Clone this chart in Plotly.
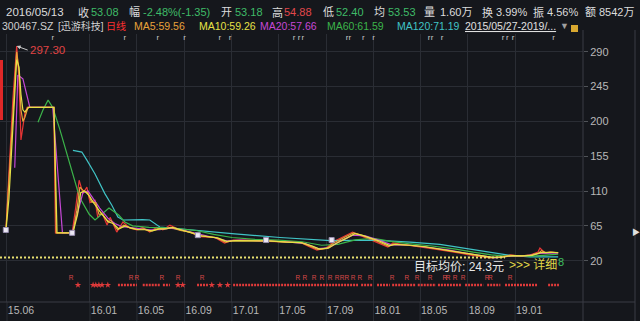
import plotly.graph_objects as go

# ---------------- data ----------------
price_dates = ["2015-05-29", "2015-06-06", "2015-06-16", "2015-06-26", "2015-07-02", "2015-07-07",
               "2015-07-12", "2015-07-17", "2015-07-23", "2015-09-30", "2015-10-04", "2015-11-16",
               "2015-11-26", "2015-12-04", "2015-12-14", "2015-12-24", "2016-01-01", "2016-01-14",
               "2016-01-21", "2016-02-01", "2016-02-14", "2016-02-22", "2016-03-10", "2016-03-26",
               "2016-04-13", "2016-05-01", "2016-05-16", "2016-06-03", "2016-06-21", "2016-07-07",
               "2016-07-25", "2016-08-19", "2016-09-14", "2016-10-10", "2016-11-18", "2016-12-13",
               "2017-01-04", "2017-02-16", "2017-03-31", "2017-05-18", "2017-06-25", "2017-07-21",
               "2017-08-08", "2017-09-02", "2017-09-18", "2017-10-19", "2017-11-08", "2017-11-26",
               "2018-01-10", "2018-02-07", "2018-02-20", "2018-03-29", "2018-05-08", "2018-06-21",
               "2018-08-12", "2018-09-20", "2018-10-29", "2018-11-22", "2018-12-19", "2019-01-14",
               "2019-02-08", "2019-03-01", "2019-03-06", "2019-03-19", "2019-04-01", "2019-04-22"]
price_vals = [57, 137, 227, 297.3, 253, 176,
              195, 210, 218, 218, 56, 56,
              92, 124, 107, 115, 95, 98,
              76, 82, 66, 76, 57, 70,
              62, 60, 63, 57, 63, 60,
              66, 60, 57, 51, 50, 42.9,
              46.7, 46.7, 45, 44, 44, 37.7,
              33.8, 36.4, 44.2, 52, 57, 53,
              44.2, 37.7, 42.9, 40.3, 37.7, 33.8,
              29.9, 26.1, 23.5, 24.8, 27.4, 26.1,
              27.4, 31.2, 36.4, 29.9, 31.2, 29.9]

ma5_dates = ["2015-05-29", "2015-06-06", "2015-06-16", "2015-06-26", "2015-07-02", "2015-07-07",
             "2015-07-12", "2015-07-17", "2015-07-25", "2015-09-30", "2015-10-06", "2015-11-18",
             "2015-11-28", "2015-12-06", "2015-12-16", "2015-12-26", "2016-01-05", "2016-01-16",
             "2016-01-24", "2016-02-03", "2016-02-16", "2016-02-24", "2016-03-12", "2016-03-28",
             "2016-04-15", "2016-05-03", "2016-05-18", "2016-06-05", "2016-06-23", "2016-07-09",
             "2016-07-27", "2016-08-21", "2016-09-16", "2016-10-12", "2016-11-20", "2016-12-15",
             "2017-01-06", "2017-02-18", "2017-04-02", "2017-05-20", "2017-06-27", "2017-07-23",
             "2017-08-10", "2017-09-04", "2017-09-20", "2017-10-21", "2017-11-10", "2017-11-28",
             "2018-01-12", "2018-02-09", "2018-02-22", "2018-03-31", "2018-05-10", "2018-06-23",
             "2018-08-14", "2018-09-22", "2018-10-31", "2018-11-24", "2018-12-21", "2019-01-16",
             "2019-02-10", "2019-03-03", "2019-03-10", "2019-03-21", "2019-04-03", "2019-04-22"]
ma5_vals = [57, 120, 210, 290, 265, 215,
            200, 205, 218, 218, 56, 56,
            85, 115, 110, 108, 96, 95,
            80, 80, 70, 72, 60, 66,
            62, 60, 61, 58, 61, 61,
            63, 59, 57, 52, 50, 44,
            46, 46, 45.5, 44, 43.5, 38.5,
            34.5, 36, 43, 51, 56, 53.5,
            45, 38.5, 41.5, 40, 38, 34.5,
            30.5, 26.8, 24, 24.6, 27, 26.3,
            27.2, 30, 33, 30.5, 31, 30.3]

ma10_dates = ["2015-05-29", "2015-06-06", "2015-06-16", "2015-06-26", "2015-07-02", "2015-07-07",
              "2015-07-12", "2015-07-17", "2015-07-27", "2015-09-30", "2015-10-08", "2015-11-18",
              "2015-11-30", "2015-12-08", "2015-12-18", "2015-12-30", "2016-01-10", "2016-01-20",
              "2016-02-01", "2016-02-18", "2016-03-01", "2016-03-15", "2016-04-01", "2016-04-18",
              "2016-05-06", "2016-05-22", "2016-06-10", "2016-06-28", "2016-07-15", "2016-08-01",
              "2016-08-25", "2016-09-20", "2016-10-15", "2016-11-25", "2016-12-18", "2017-01-10",
              "2017-02-20", "2017-04-05", "2017-05-25", "2017-07-01", "2017-07-27", "2017-08-15",
              "2017-09-08", "2017-09-25", "2017-10-25", "2017-11-14", "2017-12-02", "2018-01-16",
              "2018-02-12", "2018-02-26", "2018-04-05", "2018-05-15", "2018-06-28", "2018-08-18",
              "2018-09-26", "2018-11-04", "2018-11-28", "2018-12-25", "2019-01-20", "2019-02-14",
              "2019-03-08", "2019-03-25", "2019-04-08", "2019-04-22"]
ma10_vals = [57, 100, 190, 280, 270, 235,
             215, 212, 218, 218, 56, 56,
             80, 108, 110, 104, 95, 88,
             80, 70, 68, 61, 65, 62,
             60, 60, 58.5, 61, 61, 63,
             59.5, 56.5, 52, 49.5, 45, 46,
             46, 45.5, 44, 43, 39, 35,
             36.5, 42, 49.5, 55, 53, 45.5,
             39.5, 41, 40, 38, 34.5, 30.8,
             27.2, 24.3, 24.5, 26.6, 26.3, 27,
             30.5, 31, 30.8, 30.6]

ma20_dates = ["2015-06-21", "2015-06-29", "2015-07-12", "2015-07-30", "2015-09-27", "2015-10-22",
              "2015-11-16", "2015-12-02", "2015-12-14", "2015-12-27", "2016-01-09", "2016-01-26",
              "2016-02-16", "2016-03-05", "2016-03-23", "2016-04-13", "2016-05-08", "2016-06-03",
              "2016-06-29", "2016-07-25", "2016-08-24", "2016-09-19", "2016-10-23", "2016-11-26",
              "2016-12-21", "2017-01-22", "2017-03-15", "2017-05-18", "2017-07-09", "2017-08-12",
              "2017-09-06", "2017-10-06", "2017-11-08", "2017-12-11", "2018-01-18", "2018-02-17",
              "2018-04-06", "2018-05-26", "2018-07-12", "2018-08-25", "2018-10-03", "2018-11-10",
              "2018-12-19", "2019-01-27", "2019-03-06", "2019-04-22"]
ma20_vals = [140, 260, 255, 218, 218, 56,
             56, 85, 108, 110, 100, 88,
             75, 68, 64, 63, 61, 60,
             60, 62, 60, 57, 53, 49,
             45.5, 46.5, 46, 44.5, 42, 35.5,
             36.5, 45, 53, 52, 46, 40.5,
             40, 37, 34, 30, 26.5, 23.8,
             26, 26.2, 29.5, 30]

ma60_dates = ["2015-08-20", "2015-09-02", "2015-09-15", "2015-09-27", "2015-10-15", "2015-11-02",
              "2015-11-20", "2015-12-05", "2015-12-30", "2016-01-14", "2016-02-19", "2016-03-15",
              "2016-03-31", "2016-04-20", "2016-06-01", "2016-08-01", "2016-10-01", "2016-11-15",
              "2017-01-01", "2017-03-01", "2017-05-01", "2017-07-01", "2017-08-20", "2017-10-01",
              "2017-11-15", "2018-01-01", "2018-02-15", "2018-04-01", "2018-06-01", "2018-08-01",
              "2018-09-15", "2018-11-01", "2018-12-15", "2019-02-01", "2019-03-15", "2019-04-22"]
ma60_vals = [199, 215, 227.5, 218, 190, 159,
             125, 102, 80, 72.6, 88, 79,
             70, 65, 63, 62, 59, 54,
             50, 47.5, 46.5, 44.5, 40, 41,
             47, 49, 45, 42, 39, 35,
             31, 27.5, 25.5, 25.5, 27, 28.5]

ma120_dates = ["2015-11-18", "2015-12-11", "2015-12-24", "2016-01-14", "2016-02-08", "2016-02-26",
               "2016-03-13", "2016-03-26", "2016-05-16", "2016-06-03", "2016-06-29", "2016-09-14",
               "2017-01-01", "2017-05-05", "2017-09-12", "2018-01-01", "2018-04-06", "2018-06-21",
               "2018-10-03", "2018-12-19", "2019-02-08", "2019-04-22"]
ma120_vals = [162.6, 160.4, 150, 132, 107, 92,
              76.5, 72.6, 73, 72.6, 63.5, 59.7,
              55, 50, 46, 46.5, 44, 41,
              33, 27, 25, 25]

peak_date, peak_value = "2015-06-26", 297.30
target_price = 24.3
target_span = ["2015-05-14", "2018-12-06"]

ex_dates = ["2015-05-29", "2015-11-16", "2016-10-05", "2017-03-30", "2017-09-15"]
ex_vals = [59.7, 56, 53, 46.7, 46.7]

top_flag_dates = ["2015-09-27", "2016-03-31", "2016-06-24", "2016-09-01", "2016-12-01", "2016-12-27",
                  "2017-06-10", "2017-06-23", "2017-07-03", "2017-10-25", "2017-11-01", "2017-12-06",
                  "2018-01-01", "2018-05-24", "2018-06-01", "2018-06-27", "2018-12-01", "2018-12-12",
                  "2018-12-27", "2019-04-10"]

r_dates = ["2015-11-13", "2016-04-16", "2016-05-01", "2016-07-04", "2016-08-15", "2016-10-16",
           "2017-06-20", "2017-07-08", "2017-08-01", "2017-08-21", "2017-09-11", "2017-09-29",
           "2017-10-12", "2017-10-24", "2017-11-09", "2017-11-27", "2017-12-23", "2018-02-18",
           "2018-03-28", "2018-04-23", "2018-05-27", "2018-07-04", "2018-07-12", "2018-07-30",
           "2018-08-20", "2018-10-21", "2018-10-29", "2018-12-19"]

star_single = ["2015-12-01", "2016-01-09", "2016-01-16", "2016-01-24", "2016-02-01", "2016-02-16",
               "2016-08-15", "2016-08-27", "2016-11-10", "2016-12-01", "2016-12-21"]
star_runs = [("2016-03-13", "2016-05-01"), ("2016-05-16", "2016-06-29"), ("2016-07-07", "2016-07-25"),
             ("2016-10-03", "2016-10-31"), ("2017-01-04", "2017-11-22"), ("2017-11-30", "2017-12-31"),
             ("2018-01-10", "2018-02-12"), ("2018-02-18", "2018-04-20"), ("2018-04-25", "2018-06-11"),
             ("2018-06-16", "2018-08-17"), ("2018-08-25", "2018-10-11"), ("2018-10-21", "2018-11-24"),
             ("2018-12-06", "2019-02-28"), ("2019-03-27", "2019-04-24")]

x_tick_dates = ["2015-06-01", "2016-01-01", "2016-05-01", "2016-09-01", "2017-01-01", "2017-05-01",
                "2017-09-01", "2018-01-01", "2018-05-01", "2018-09-01", "2019-01-01"]
x_tick_text = ["15.06", "16.01", "16.05", "16.09", "17.01", "17.05",
               "17.09", "18.01", "18.05", "18.09", "19.01"]
y_ticks = [20, 65, 110, 155, 200, 245, 290]

header_date = "2016/05/13"
header_row1 = [("收", "53.08", "g"), ("幅", "-2.48%(-1.35)", "g"), ("开", "53.18", "g"),
               ("高", "54.88", "r"), ("低", "52.40", "g"), ("均", "53.53", "g"),
               ("量", "1.60万", "w"), ("换", "3.99%", "w"), ("振", "4.56%", "w"),
               ("额", "8542万", "w")]
stock_code, stock_name = "300467.SZ", "[迅游科技]"
ma_legend = [("日线", ""), ("MA5", "59.56"), ("MA10", "59.26"), ("MA20", "57.66"),
             ("MA60", "61.59"), ("MA120", "71.19")]
range_text = "2015/05/27-2019/..."

# ---------------- style ----------------
BG = "#15171c"
GRID = "#2a2d34"
EDGE = "#3a3d45"
FONT = "Liberation Sans, Noto Sans CJK SC, sans-serif"
C_PRICE = "#e83535"
C_MA = {"日线": "#ff3030", "MA5": "#e8a23a", "MA10": "#e6e246", "MA20": "#c648d6",
        "MA60": "#3cb44a", "MA120": "#40c4c6"}
VAL_COL = {"g": "#3fbb68", "r": "#e2474b", "w": "#dcdcdc"}

W, H = 640, 321
ML, MR, MT, MB = 0, 57, 34, 19
PW, PH = W - ML - MR, H - MT - MB


def px(x):
    return (x - ML) / PW


def py(y):
    return (H - MB - y) / PH


fig = go.Figure()

line_sets = [
    (price_dates, price_vals, C_PRICE),
    (ma120_dates, ma120_vals, C_MA["MA120"]),
    (ma60_dates, ma60_vals, C_MA["MA60"]),
    (ma20_dates, ma20_vals, C_MA["MA20"]),
    (ma5_dates, ma5_vals, C_MA["MA5"]),
    (ma10_dates, ma10_vals, C_MA["MA10"]),
]
for xs, ys, col in line_sets:
    fig.add_trace(go.Scatter(x=xs, y=ys, mode="lines", line=dict(color=col, width=1.2),
                             hoverinfo="skip"))

# target line
fig.add_trace(go.Scatter(x=target_span, y=[target_price, target_price], mode="lines",
                         line=dict(color="#e8e070", width=2, dash="2px,2px"), hoverinfo="skip"))

# ex-rights markers
fig.add_trace(go.Scatter(x=ex_dates, y=ex_vals, mode="markers",
                         marker=dict(symbol="square", size=5, color="#ece8f4",
                                     line=dict(color="#9a90b0", width=1)), hoverinfo="skip"))

# event rows on overlay axis
fig.add_trace(go.Scatter(x=top_flag_dates, y=[py(38)] * len(top_flag_dates), yaxis="y2",
                         mode="text", text=["r"] * len(top_flag_dates),
                         textfont=dict(color="#c8c8c8", size=8, family=FONT), hoverinfo="skip"))
fig.add_trace(go.Scatter(x=r_dates, y=[py(278)] * len(r_dates), yaxis="y2",
                         mode="text", text=["R"] * len(r_dates),
                         textfont=dict(color="#d84848", size=6.5, family=FONT), hoverinfo="skip"))
run_x, run_y = [], []
for a, b in star_runs:
    run_x += [a, b, None]
    run_y += [py(285), py(285), None]
fig.add_trace(go.Scatter(x=run_x, y=run_y, yaxis="y2", mode="lines",
                         line=dict(color="#e03a3a", width=2.5, dash="2px,1px"), hoverinfo="skip"))
fig.add_trace(go.Scatter(x=star_single, y=[py(285)] * len(star_single), yaxis="y2",
                         mode="markers", marker=dict(symbol="star", size=5, color="#e03a3a"),
                         hoverinfo="skip"))

fig.update_layout(
    width=W, height=H, margin=dict(l=ML, r=MR, t=MT, b=MB),
    paper_bgcolor=BG, plot_bgcolor=BG, showlegend=False,
    font=dict(family=FONT, color="#c0c0c0", size=11),
    xaxis=dict(type="date", range=["2015-05-14", "2019-06-25"], tickvals=x_tick_dates,
               ticktext=x_tick_text, showgrid=True, gridcolor=GRID, gridwidth=1,
               ticks="", ticklabelshift=14, tickfont=dict(size=10.5, color="#b8b8b8"),
               zeroline=False, showline=False, fixedrange=True),
    yaxis=dict(range=[-33.35, 312.9], side="right", tickvals=y_ticks, showgrid=True,
               gridcolor=GRID, gridwidth=1, ticks="outside", ticklen=4, tickcolor="#505358",
               tickfont=dict(size=11, color="#b8b8b8"), zeroline=False, showline=False),
    yaxis2=dict(range=[0, 1], overlaying="y", visible=False),
)

shapes = []
for d in x_tick_dates:
    shapes.append(dict(type="line", xref="x", yref="paper", x0=d, x1=d, y0=py(H), y1=0,
                       line=dict(color=GRID, width=1)))
shapes += [
    dict(type="line", xref="paper", yref="paper", x0=1, x1=1, y0=py(H), y1=py(30),
         line=dict(color=EDGE, width=1)),
    dict(type="line", xref="paper", yref="paper", x0=px(635), x1=px(635), y0=py(H), y1=py(30),
         line=dict(color=EDGE, width=1)),
    dict(type="line", xref="paper", yref="paper", x0=0, x1=px(635), y0=0, y1=0,
         line=dict(color=EDGE, width=1)),
    dict(type="rect", xref="paper", yref="paper", x0=0, x1=px(3), y0=py(120), y1=py(60),
         fillcolor="#e02828", line=dict(width=0)),
    dict(type="rect", xref="paper", yref="paper", x0=px(571), x1=px(578), y0=py(32), y1=py(25),
         fillcolor="#d8a830", line=dict(width=0)),
]
fig.update_layout(shapes=shapes)

ann = []


def txt(x, y, s, color, size=11.5):
    ann.append(dict(xref="paper", yref="paper", x=px(x), y=py(y), text=s, showarrow=False,
                    xanchor="left", yanchor="middle",
                    font=dict(color=color, size=size, family=FONT)))


# header row 1
txt(4, 12, header_date, "#dcdcdc")
row1_pos = [(76, 89), (127, 141), (219, 233), (270, 282), (321, 334), (372, 386),
            (422, 438), (480, 494), (531, 545), (583, 597)]
for (lab, val, c), (xl, xv) in zip(header_row1, row1_pos):
    txt(xl, 12, lab, "#dcdcdc", 11)
    txt(xv, 12, val, VAL_COL[c], 11)

# header row 2
txt(0, 26, stock_code, "#d0d0d0", 10.5)
txt(56, 26, stock_name, "#d0d0d0", 10)
row2_pos = [104, 132, 197, 258, 325, 395]
for (name, val), x in zip(ma_legend, row2_pos):
    s = name if not val else f"{name}:{val}"
    txt(x, 26, s, C_MA[name], 10 if not val else 10.5)
txt(463, 26, f"<u>{range_text}</u>", "#e0e0e0", 10.5)
txt(558, 26, "▼", "#a0a0a0", 9)

# peak annotation
ann.append(dict(x=peak_date, y=peak_value, xref="x", yref="y", text=f"{peak_value:.2f}",
                showarrow=True, ax=11, ay=4, xanchor="left", yanchor="middle",
                arrowhead=2, arrowsize=0.8, arrowwidth=1, arrowcolor="#c8c8c8", standoff=0,
                font=dict(color="#e04444", size=11.5, family=FONT)))

# target text
txt(412, 267, f"目标均价: {target_price}元", "#e8e8e8", 12)
txt(507, 264, ">>> 详细", "#e0d848", 12)
txt(556, 262, "8", "#3fbf60", 11)
txt(630, 232, "▶", "#e0e0e0", 8)

fig.update_layout(annotations=ann)

fig.write_html("out.html")
